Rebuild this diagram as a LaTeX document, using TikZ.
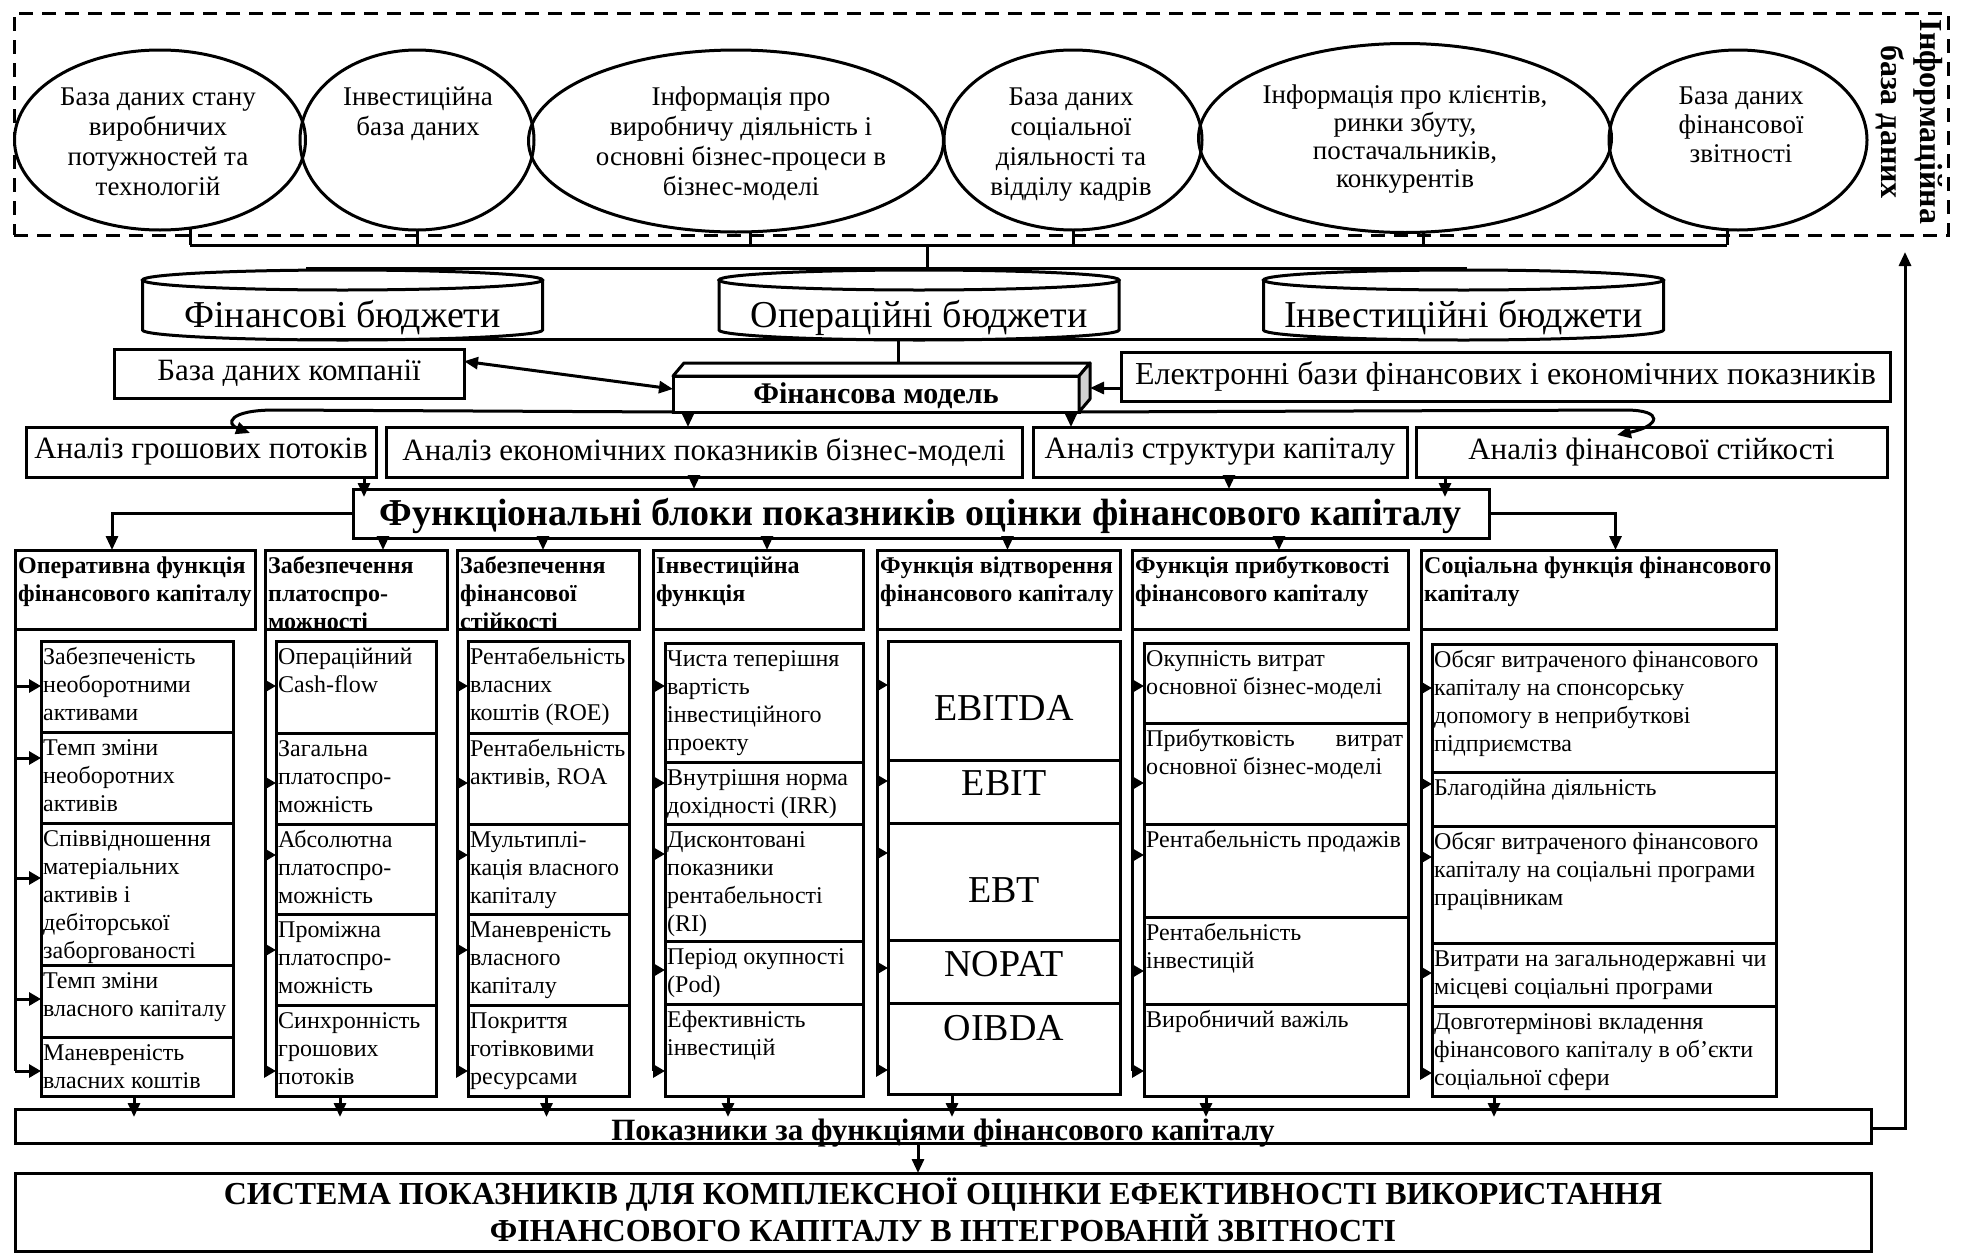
\documentclass[tikz,border=0pt]{standalone}
\usepackage{fontspec}
\setmainfont{Liberation Serif}
\usetikzlibrary{arrows.meta,shapes.geometric}
\newcommand{\rbox}[5]{\node[bx, anchor=north west, minimum width={#4pt-#2pt}, minimum height={#5pt-#3pt}] (#1) at (#2,#3) {};}
\newcommand{\itm}[3]{\node[itx] (#1) at (#2.north west) {\strut #3};}
\newcommand{\hdr}[3]{\node[htx] (#1) at (#2.north west) {\strut #3};}
\newcommand{\cyl}[3]{%
 \draw[line width=3pt,fill=white] (#2-200,280) -- (#2-200,330) arc[start angle=180,end angle=360,x radius=200pt,y radius=10pt] -- (#2+200,280);
 \draw[line width=3pt] (#2,280) ellipse[x radius=200pt,y radius=10pt];
 \node[font=\fontsize{38}{40}\selectfont,inner sep=0pt,anchor=base] (#1) at (#2,327) {#3};}
\begin{document}
\begin{tikzpicture}[x=1pt,y=-1pt,
 bx/.style={draw,line width=3pt,inner sep=0pt,outer sep=0pt,rectangle},
 ell/.style={draw,ellipse,line width=3pt,inner sep=0pt,outer sep=0pt},
 conn/.style={line width=3pt},
 arr/.style={line width=3pt,-{Triangle[length=14pt,width=12pt]}},
 farr/.style={line width=3pt,-{Triangle[length=12pt,width=13pt]}},
 itx/.style={font=\fontsize{24}{28}\selectfont,align=left,inner xsep=2pt,inner ysep=4pt,anchor=north west},
 htx/.style={font=\fontsize{24}{28}\selectfont\bfseries,align=left,inner xsep=3pt,inner ysep=4pt,anchor=north west},
 etx/.style={font=\fontsize{27}{30}\selectfont,align=center,inner sep=0pt,anchor=north},
 ctx/.style={font=\fontsize{38}{40}\selectfont,inner sep=0pt},
 atx/.style={font=\fontsize{31}{33}\selectfont,inner sep=0pt},
]
\useasboundingbox (0,0) rectangle (1963,1253);

% ---------- information database ----------
\node[draw,line width=3pt,dash pattern=on 14pt off 9pt,anchor=north west,minimum width=1934pt,minimum height=222pt,inner sep=0pt,outer sep=0pt] (idb) at (14,13) {};
\node[rotate=-90,font=\fontsize{32}{39}\selectfont\bfseries,align=center,inner sep=0pt] (idbt) at (1909,122) {Інформаційна\\база даних};

\node[ell,minimum width=291pt,minimum height=180pt] (E1) at (160,140) {};
\node[ell,minimum width=234pt,minimum height=180pt] (E2) at (417,140) {};
\node[ell,minimum width=415pt,minimum height=182pt] (E3) at (736,141) {};
\node[ell,minimum width=258pt,minimum height=180pt] (E4) at (1073,140) {};
\node[ell,minimum width=413pt,minimum height=189pt] (E5) at (1405,138) {};
\node[ell,minimum width=258pt,minimum height=180pt] (E6) at (1738,140) {};

\node[etx] (E1t) at (158,84) {\strut База даних стану\\виробничих\\потужностей та\\технологій};
\node[etx] (E2t) at (418,84) {\strut Інвестиційна\\база даних};
\node[etx] (E3t) at (741,84) {\strut Інформація про\\виробничу діяльність і\\основні бізнес-процеси в\\бізнес-моделі};
\node[etx] (E4t) at (1071,84) {\strut База даних\\соціальної\\діяльності та\\відділу кадрів};
\node[etx,font=\fontsize{27}{28}\selectfont] (E5t) at (1405,84) {\strut Інформація про клієнтів,\\ринки збуту,\\постачальників,\\конкурентів};
\node[etx,font=\fontsize{27}{29}\selectfont] (E6t) at (1741,84) {\strut База даних\\фінансової\\звітності};

\coordinate (bus) at (927,245);
\coordinate (ctl) at (306,268);
\coordinate (ctr) at (1467,268);
\draw[conn] (E1.-71) -- (E1.-71 |- bus);
\draw[conn] (E2.south) -- (E2.south |- bus);
\draw[conn] (E3.-81) -- (E3.-81 |- bus);
\draw[conn] (E4.south) -- (E4.south |- bus);
\draw[conn] (E5.-79) -- (E5.-79 |- bus);
\draw[conn] (E6.-97) -- (E6.-97 |- bus);
\draw[conn] (E1.-71 |- bus) -- (E6.-97 |- bus);
\draw[conn] (bus) -- (bus |- ctl);
\draw[conn] (ctl) -- (ctr);

% ---------- budgets ----------
\cyl{C1}{342.5}{Фінансові бюджети}
\cyl{C2}{919}{Операційні бюджети}
\cyl{C3}{1463.5}{Інвестиційні бюджети}
\coordinate (cbl) at (300,339);
\coordinate (cbr) at (1409,339);
\coordinate (fmtop) at (898,363);
\draw[conn] (cbl) -- (cbr);
\draw[conn] (fmtop |- cbl) -- (fmtop);

% ---------- financial model ----------
\node[bx,anchor=north west,minimum width=406pt,minimum height=36pt] (fm) at (673,376) {};
\draw[line width=3pt,line join=round,fill=white] (fm.north west) -- ++(11,-13) -- ++(406,0) -- (fm.north east) -- cycle;
\draw[line width=3pt,line join=round,fill=gray!35] (fm.north east) -- ++(11,-13) -- ++(0,36) -- (fm.south east) -- cycle;
\node[font=\fontsize{30}{32}\selectfont\bfseries,inner sep=0pt] (fmt) at (876,396) {Фінансова модель};
\coordinate (fmR) at (1090,388);

\rbox{dbk}{114}{349}{464}{398}
\node[atx] (dbkt) at (dbk.center) {База даних компанії};
\rbox{edb}{1121}{352}{1890}{401}
\node[font=\fontsize{32}{34}\selectfont,inner sep=0pt] (edbt) at (edb.center) {Електронні бази фінансових і економічних показників};

\draw[line width=3pt,{Triangle[length=14pt,width=12pt]}-{Triangle[length=14pt,width=12pt]}] (dbk.4) -- ([yshift=5pt]fm.west);
\draw[arr] (edb.west |- fmR) -- (fmR);

% ---------- analysis ----------
\rbox{a1}{26}{427}{376}{477}
\rbox{a2}{386}{427}{1022}{477}
\rbox{a3}{1033}{427}{1407}{477}
\rbox{a4}{1416}{427}{1887}{477}
\node[atx] (a1t) at (a1.center) {Аналіз грошових потоків};
\node[atx] (a2t) at (a2.center) {Аналіз економічних показників бізнес-моделі};
\node[atx] (a3t) at (a3.center) {Аналіз структури капіталу};
\node[atx] (a4t) at (a4.center) {Аналіз фінансової стійкості};

\draw[arr] (fm.south west) -- (275,410) .. controls (228,410) and (226,424) .. (250,433);
\draw[arr] (fm.south east) -- (1625,410) .. controls (1665,410) and (1660,426) .. (1617,435);
\draw[arr] ([xshift=15pt]fm.south west) -- ([xshift=15pt]fm.south west |- a2.north);
\draw[arr] ([xshift=-8pt]fm.south east) -- ([xshift=-8pt]fm.south east |- a3.north);

% ---------- functional blocks ----------
\rbox{fb}{353}{489}{1489}{538}
\node[font=\fontsize{38}{40}\selectfont\bfseries,inner sep=0pt] (fbt) at (921,516) {Функціональні блоки показників оцінки фінансового капіталу};

\draw[arr] ([xshift=-12pt]a1.south east) -- ([xshift=-12pt,yshift=-8pt]a1.south east |- fb.north);
\draw[arr] ([xshift=-10pt]a2.south) -- ([xshift=-10pt]a2.south |- fb.north);
\draw[arr] ([xshift=9pt]a3.south) -- ([xshift=9pt]a3.south |- fb.north);
\draw[arr] ([xshift=29pt]a4.south west) -- ([xshift=29pt,yshift=-8pt]a4.south west |- fb.north);

% ---------- headers ----------
\rbox{h1}{15}{550}{255}{629}
\rbox{h2}{265}{550}{447}{629}
\rbox{h3}{457}{550}{639}{629}
\rbox{h4}{653}{550}{863}{629}
\rbox{h5}{877}{550}{1120}{629}
\rbox{h6}{1132}{550}{1408}{629}
\rbox{h7}{1421}{550}{1776}{629}
\hdr{h1t}{h1}{Оперативна функція\\фінансового капіталу}
\hdr{h2t}{h2}{Забезпечення\\платоспро-\\можності}
\hdr{h3t}{h3}{Забезпечення\\фінансової\\стійкості}
\hdr{h4t}{h4}{Інвестиційна\\функція}
\hdr{h5t}{h5}{Функція відтворення\\фінансового капіталу}
\hdr{h6t}{h6}{Функція прибутковості\\фінансового капіталу}
\hdr{h7t}{h7}{Соціальна функція фінансового\\капіталу}

\draw[arr] (fb.west) -| ([xshift=-23pt]h1.north);
\draw[arr] (fb.east) -| ([xshift=17pt]h7.north);
\draw[arr] ([xshift=27pt]h2.north |- fb.south) -- ([xshift=27pt]h2.north);
\draw[arr] ([xshift=-5pt]h3.north |- fb.south) -- ([xshift=-5pt]h3.north);
\draw[arr] ([xshift=9pt]h4.north |- fb.south) -- ([xshift=9pt]h4.north);
\draw[arr] ([xshift=9pt]h5.north |- fb.south) -- ([xshift=9pt]h5.north);
\draw[arr] ([xshift=9pt]h6.north |- fb.south) -- ([xshift=9pt]h6.north);

% ---------- column 1 ----------
\rbox{c1a}{41}{641}{233}{732}
\rbox{c1b}{41}{732}{233}{823}
\rbox{c1c}{41}{823}{233}{965}
\rbox{c1d}{41}{965}{233}{1037}
\rbox{c1e}{41}{1037}{233}{1096}
\itm{c1at}{c1a}{Забезпеченість\\необоротними\\активами}
\itm{c1bt}{c1b}{Темп зміни\\необоротних\\активів}
\itm{c1ct}{c1c}{Співвідношення\\матеріальних\\активів і\\дебіторської\\заборгованості}
\itm{c1dt}{c1d}{Темп зміни\\власного капіталу}
\itm{c1et}{c1e}{Маневреність\\власних коштів}

% ---------- column 2 ----------
\rbox{c2a}{276}{641}{436}{733}
\rbox{c2b}{276}{733}{436}{824}
\rbox{c2c}{276}{824}{436}{914}
\rbox{c2d}{276}{914}{436}{1005}
\rbox{c2e}{276}{1005}{436}{1096}
\itm{c2at}{c2a}{Операційний\\Cash-flow}
\itm{c2bt}{c2b}{Загальна\\платоспро-\\можність}
\itm{c2ct}{c2c}{Абсолютна\\платоспро-\\можність}
\itm{c2dt}{c2d}{Проміжна\\платоспро-\\можність}
\itm{c2et}{c2e}{Синхронність\\грошових\\потоків}

% ---------- column 3 ----------
\rbox{c3a}{468}{641}{629}{733}
\rbox{c3b}{468}{733}{629}{824}
\rbox{c3c}{468}{824}{629}{914}
\rbox{c3d}{468}{914}{629}{1005}
\rbox{c3e}{468}{1005}{629}{1096}
\itm{c3at}{c3a}{Рентабельність\\власних\\коштів (ROE)}
\itm{c3bt}{c3b}{Рентабельність\\активів, ROA}
\itm{c3ct}{c3c}{Мультиплі-\\кація власного\\капіталу}
\itm{c3dt}{c3d}{Маневреність\\власного\\капіталу}
\itm{c3et}{c3e}{Покриття\\готівковими\\ресурсами}

% ---------- column 4 ----------
\rbox{c4a}{665}{643}{863}{762}
\rbox{c4b}{665}{762}{863}{824}
\rbox{c4c}{665}{824}{863}{941}
\rbox{c4d}{665}{941}{863}{1004}
\rbox{c4e}{665}{1004}{863}{1096}
\itm{c4at}{c4a}{Чиста теперішня\\вартість\\інвестиційного\\проекту}
\itm{c4bt}{c4b}{Внутрішня норма\\дохідності (IRR)}
\itm{c4ct}{c4c}{Дисконтовані\\показники\\рентабельності\\(RI)}
\itm{c4dt}{c4d}{Період окупності\\(Pod)}
\itm{c4et}{c4e}{Ефективність\\інвестицій}

% ---------- column 5 ----------
\rbox{c5a}{888}{641}{1120}{760}
\rbox{c5b}{888}{760}{1120}{823}
\rbox{c5c}{888}{823}{1120}{940}
\rbox{c5d}{888}{940}{1120}{1003}
\rbox{c5e}{888}{1003}{1120}{1094}
\node[ctx] (c5at) at (1004,708) {EBITDA};
\node[ctx] (c5bt) at (1004,783) {EBIT};
\node[ctx] (c5ct) at (1004,890) {EBT};
\node[ctx] (c5dt) at (1004,964) {NOPAT};
\node[ctx] (c5et) at (1004,1028) {OIBDA};

% ---------- column 6 ----------
\rbox{c6a}{1144}{643}{1408}{723}
\rbox{c6b}{1144}{723}{1408}{824}
\rbox{c6c}{1144}{824}{1408}{917}
\rbox{c6d}{1144}{917}{1408}{1004}
\rbox{c6e}{1144}{1004}{1408}{1096}
\itm{c6at}{c6a}{Окупність витрат\\основної бізнес-моделі}
\itm{c6bt}{c6b}{\hbox to 257pt{Прибутковість\hfill витрат}\\основної бізнес-моделі}
\itm{c6ct}{c6c}{Рентабельність продажів}
\itm{c6dt}{c6d}{Рентабельність\\інвестицій}
\itm{c6et}{c6e}{Виробничий важіль}

% ---------- column 7 ----------
\rbox{c7a}{1432}{644}{1776}{772}
\rbox{c7b}{1432}{772}{1776}{826}
\rbox{c7c}{1432}{826}{1776}{943}
\rbox{c7d}{1432}{943}{1776}{1006}
\rbox{c7e}{1432}{1006}{1776}{1096}
\itm{c7at}{c7a}{Обсяг витраченого фінансового\\капіталу на спонсорську\\допомогу в неприбуткові\\підприємства}
\itm{c7bt}{c7b}{Благодійна діяльність}
\itm{c7ct}{c7c}{Обсяг витраченого фінансового\\капіталу на соціальні програми\\працівникам}
\itm{c7dt}{c7d}{Витрати на загальнодержавні чи\\місцеві соціальні програми}
\itm{c7et}{c7e}{Довготермінові вкладення\\фінансового капіталу в об’єкти\\соціальної сфери}

% ---------- feed lines ----------
\foreach \hh/\ye in {h1/1071,h2/1071,h3/1071,h4/1071,h5/1070,h6/1071,h7/1073}
  \draw[conn] (\hh.south west) -- (\hh.south west |- 0,\ye);
\foreach \yy/\bb in {686/c1a,758/c1b,878/c1c,999/c1d,1071/c1e}
  \draw[farr] (h1.south west |- 0,\yy) -- (\bb.west |- 0,\yy);
\foreach \yy/\bb in {686/c2a,783/c2b,855/c2c,950/c2d,1071/c2e}
  \draw[farr] (h2.south west |- 0,\yy) -- (\bb.west |- 0,\yy);
\foreach \yy/\bb in {686/c3a,783/c3b,855/c3c,950/c3d,1071/c3e}
  \draw[farr] (h3.south west |- 0,\yy) -- (\bb.west |- 0,\yy);
\foreach \yy/\bb in {686/c4a,783/c4b,854/c4c,970/c4d,1071/c4e}
  \draw[farr] (h4.south west |- 0,\yy) -- (\bb.west |- 0,\yy);
\foreach \yy/\bb in {685/c5a,781/c5b,853/c5c,968/c5d,1070/c5e}
  \draw[farr] (h5.south west |- 0,\yy) -- (\bb.west |- 0,\yy);
\foreach \yy/\bb in {686/c6a,783/c6b,855/c6c,971/c6d,1071/c6e}
  \draw[farr] (h6.south west |- 0,\yy) -- (\bb.west |- 0,\yy);
\foreach \yy/\bb in {688/c7a,784/c7b,857/c7c,973/c7d,1073/c7e}
  \draw[farr] (h7.south west |- 0,\yy) -- (\bb.west |- 0,\yy);

% ---------- bottom ----------
\rbox{pk}{15}{1109}{1871}{1143}
\node[font=\fontsize{31}{33}\selectfont\bfseries,inner sep=0pt,anchor=base] (pkt) at (943,1140) {Показники за функціями фінансового капіталу};
\rbox{sys}{15}{1173}{1871}{1251}
\node[font=\fontsize{32}{37}\selectfont\bfseries,align=center,inner sep=0pt] (syst) at (943,1210) {СИСТЕМА ПОКАЗНИКІВ ДЛЯ КОМПЛЕКСНОЇ ОЦІНКИ ЕФЕКТИВНОСТІ ВИКОРИСТАННЯ\\ФІНАНСОВОГО КАПІТАЛУ В ІНТЕГРОВАНІЙ ЗВІТНОСТІ};

\foreach \bb/\dx in {c1e/-3,c2e/-16,c3e/-2,c4e/-36,c5e/-52,c6e/-70,c7e/-110}
  \draw[arr] ([xshift=\dx pt]\bb.south) -- ([xshift=\dx pt,yshift=-8pt]\bb.south |- pk.north);
\draw[arr] ([xshift=-25pt]pk.south) -- ([xshift=-25pt]pk.south |- sys.north);
\coordinate (fbk) at (1905,252);
\draw[arr] ([yshift=-2pt]pk.east) -| (fbk);
\end{tikzpicture}
\end{document}
